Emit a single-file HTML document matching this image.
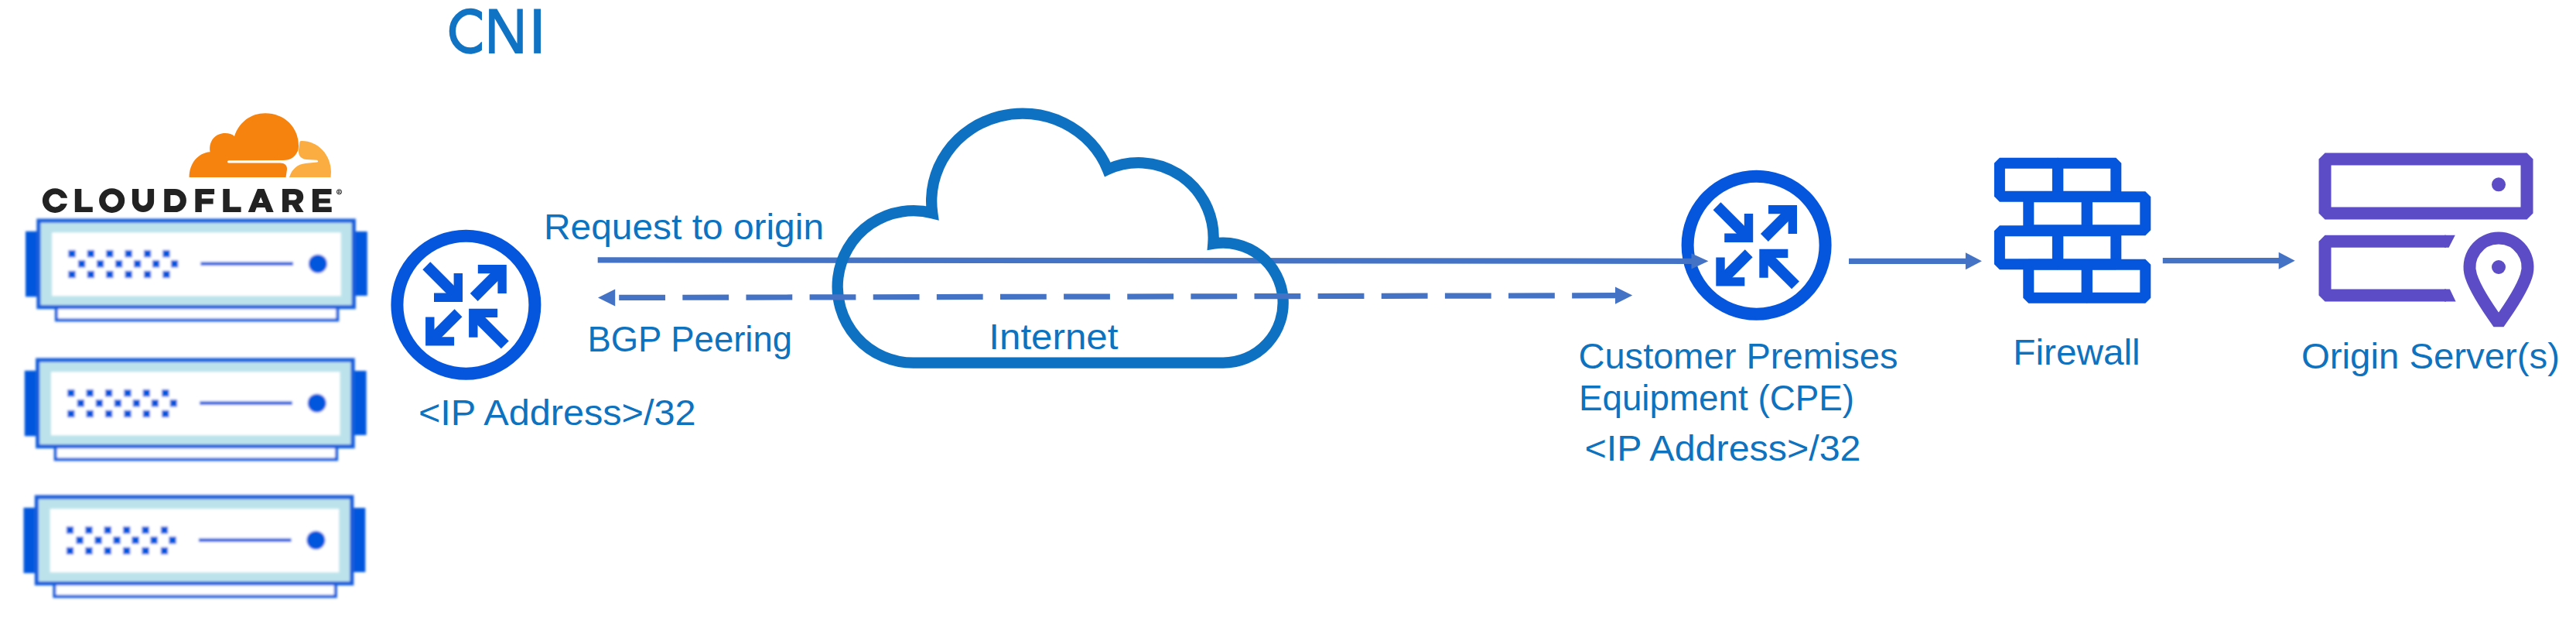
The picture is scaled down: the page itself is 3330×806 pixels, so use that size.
<!DOCTYPE html>
<html><head><meta charset="utf-8"><title>CNI</title>
<style>html,body{margin:0;padding:0;background:#fff;overflow:hidden}svg{display:block}</style>
</head><body>
<svg width="3330" height="806" viewBox="0 0 3330 806" font-family="'Liberation Sans', sans-serif">
<defs><filter id="soft" x="-5%" y="-5%" width="110%" height="110%"><feGaussianBlur stdDeviation="1.5"/></filter></defs>
<rect width="3330" height="806" fill="#fff"/>
<clipPath id="cc"><rect x="570" y="0" width="53.1" height="90"/></clipPath>
<path d="M 625.5 23.9 A 23 25.3 0 1 0 625.5 56.5" fill="none" stroke="#1173C4" stroke-width="8.4" clip-path="url(#cc)"/>
<path d="M632.1,68.9 V11.5 H642.4 L668.5,56.3 V11.5 H675.8 V68.9 H665.9 L639.6,24 V68.9 Z" fill="#1173C4"/>
<rect x="690.2" y="11.5" width="8.8" height="57.4" fill="#1173C4"/>
<g filter="url(#soft)">
<g transform="translate(0,0)">
<rect x="72.9" y="392" width="363.4" height="21.4" fill="#fff" stroke="#175EDB" stroke-width="4"/>
<rect x="33" y="298.8" width="20" height="84.5" fill="#0556DD"/>
<rect x="455" y="299" width="19.8" height="83" fill="#0556DD"/>
<rect x="49.9" y="285.1" width="407.4" height="111.5" fill="#BCE3EB" stroke="#175EDB" stroke-width="5.2"/>
<rect x="67.2" y="300.3" width="373.5" height="82" fill="#fff"/>
<rect x="88.4" y="323.1" width="9.2" height="9.2" fill="#0556DD"/>
<rect x="88.4" y="349.9" width="9.2" height="9.2" fill="#0556DD"/>
<rect x="101.0" y="336.2" width="9.2" height="9.2" fill="#0556DD"/>
<rect x="112.8" y="323.1" width="9.2" height="9.2" fill="#0556DD"/>
<rect x="112.8" y="349.9" width="9.2" height="9.2" fill="#0556DD"/>
<rect x="125.0" y="336.2" width="9.2" height="9.2" fill="#0556DD"/>
<rect x="137.2" y="323.1" width="9.2" height="9.2" fill="#0556DD"/>
<rect x="137.2" y="349.9" width="9.2" height="9.2" fill="#0556DD"/>
<rect x="149.0" y="336.2" width="9.2" height="9.2" fill="#0556DD"/>
<rect x="161.6" y="323.1" width="9.2" height="9.2" fill="#0556DD"/>
<rect x="161.6" y="349.9" width="9.2" height="9.2" fill="#0556DD"/>
<rect x="173.0" y="336.2" width="9.2" height="9.2" fill="#0556DD"/>
<rect x="186.0" y="323.1" width="9.2" height="9.2" fill="#0556DD"/>
<rect x="186.0" y="349.9" width="9.2" height="9.2" fill="#0556DD"/>
<rect x="197.0" y="336.2" width="9.2" height="9.2" fill="#0556DD"/>
<rect x="210.4" y="323.1" width="9.2" height="9.2" fill="#0556DD"/>
<rect x="210.4" y="349.9" width="9.2" height="9.2" fill="#0556DD"/>
<rect x="221.0" y="336.2" width="9.2" height="9.2" fill="#0556DD"/>
<line x1="259.4" y1="340.8" x2="379" y2="340.8" stroke="#1259DC" stroke-width="4.6"/>
<circle cx="410.9" cy="340.8" r="12" fill="#0556DD"/>
</g>
<g transform="translate(-1.2,180)">
<rect x="72.9" y="392" width="363.4" height="21.4" fill="#fff" stroke="#175EDB" stroke-width="4"/>
<rect x="33" y="298.8" width="20" height="84.5" fill="#0556DD"/>
<rect x="455" y="299" width="19.8" height="83" fill="#0556DD"/>
<rect x="49.9" y="285.1" width="407.4" height="111.5" fill="#BCE3EB" stroke="#175EDB" stroke-width="5.2"/>
<rect x="67.2" y="300.3" width="373.5" height="82" fill="#fff"/>
<rect x="88.4" y="323.1" width="9.2" height="9.2" fill="#0556DD"/>
<rect x="88.4" y="349.9" width="9.2" height="9.2" fill="#0556DD"/>
<rect x="101.0" y="336.2" width="9.2" height="9.2" fill="#0556DD"/>
<rect x="112.8" y="323.1" width="9.2" height="9.2" fill="#0556DD"/>
<rect x="112.8" y="349.9" width="9.2" height="9.2" fill="#0556DD"/>
<rect x="125.0" y="336.2" width="9.2" height="9.2" fill="#0556DD"/>
<rect x="137.2" y="323.1" width="9.2" height="9.2" fill="#0556DD"/>
<rect x="137.2" y="349.9" width="9.2" height="9.2" fill="#0556DD"/>
<rect x="149.0" y="336.2" width="9.2" height="9.2" fill="#0556DD"/>
<rect x="161.6" y="323.1" width="9.2" height="9.2" fill="#0556DD"/>
<rect x="161.6" y="349.9" width="9.2" height="9.2" fill="#0556DD"/>
<rect x="173.0" y="336.2" width="9.2" height="9.2" fill="#0556DD"/>
<rect x="186.0" y="323.1" width="9.2" height="9.2" fill="#0556DD"/>
<rect x="186.0" y="349.9" width="9.2" height="9.2" fill="#0556DD"/>
<rect x="197.0" y="336.2" width="9.2" height="9.2" fill="#0556DD"/>
<rect x="210.4" y="323.1" width="9.2" height="9.2" fill="#0556DD"/>
<rect x="210.4" y="349.9" width="9.2" height="9.2" fill="#0556DD"/>
<rect x="221.0" y="336.2" width="9.2" height="9.2" fill="#0556DD"/>
<line x1="259.4" y1="340.8" x2="379" y2="340.8" stroke="#1259DC" stroke-width="4.6"/>
<circle cx="410.9" cy="340.8" r="12" fill="#0556DD"/>
</g>
<g transform="translate(-2.5,357)">
<rect x="72.9" y="392" width="363.4" height="21.4" fill="#fff" stroke="#175EDB" stroke-width="4"/>
<rect x="33" y="298.8" width="20" height="84.5" fill="#0556DD"/>
<rect x="455" y="299" width="19.8" height="83" fill="#0556DD"/>
<rect x="49.9" y="285.1" width="407.4" height="111.5" fill="#BCE3EB" stroke="#175EDB" stroke-width="5.2"/>
<rect x="67.2" y="300.3" width="373.5" height="82" fill="#fff"/>
<rect x="88.4" y="323.1" width="9.2" height="9.2" fill="#0556DD"/>
<rect x="88.4" y="349.9" width="9.2" height="9.2" fill="#0556DD"/>
<rect x="101.0" y="336.2" width="9.2" height="9.2" fill="#0556DD"/>
<rect x="112.8" y="323.1" width="9.2" height="9.2" fill="#0556DD"/>
<rect x="112.8" y="349.9" width="9.2" height="9.2" fill="#0556DD"/>
<rect x="125.0" y="336.2" width="9.2" height="9.2" fill="#0556DD"/>
<rect x="137.2" y="323.1" width="9.2" height="9.2" fill="#0556DD"/>
<rect x="137.2" y="349.9" width="9.2" height="9.2" fill="#0556DD"/>
<rect x="149.0" y="336.2" width="9.2" height="9.2" fill="#0556DD"/>
<rect x="161.6" y="323.1" width="9.2" height="9.2" fill="#0556DD"/>
<rect x="161.6" y="349.9" width="9.2" height="9.2" fill="#0556DD"/>
<rect x="173.0" y="336.2" width="9.2" height="9.2" fill="#0556DD"/>
<rect x="186.0" y="323.1" width="9.2" height="9.2" fill="#0556DD"/>
<rect x="186.0" y="349.9" width="9.2" height="9.2" fill="#0556DD"/>
<rect x="197.0" y="336.2" width="9.2" height="9.2" fill="#0556DD"/>
<rect x="210.4" y="323.1" width="9.2" height="9.2" fill="#0556DD"/>
<rect x="210.4" y="349.9" width="9.2" height="9.2" fill="#0556DD"/>
<rect x="221.0" y="336.2" width="9.2" height="9.2" fill="#0556DD"/>
<line x1="259.4" y1="340.8" x2="379" y2="340.8" stroke="#1259DC" stroke-width="4.6"/>
<circle cx="410.9" cy="340.8" r="12" fill="#0556DD"/>
</g>
</g>
<path fill="#F7830F" d="M 244.6 229 C 244.6 211 256 197.5 271.5 196.3 C 269.5 181 279 172 291 172 C 296 172 300.5 173.5 303 176 C 309 158 324 146.3 343 146.3 C 367 146.3 386 164 386 188 C 386 190 385.7 193 385 195 C 381 203 376 206.8 366 207 L 296 207.3 Q 294 207.5 294 209 Q 294 210.6 296 210.6 L 362 210.6 C 368 210.6 371.5 214 371 219 L 369.5 229 Z"/>
<path fill="#FBAD41" d="M 374 229 C 377 219 384 212 395 211 L 410 209.5 Q 411.5 209 411 208 Q 411 207 409.5 206.8 L 396 206 C 388 205 385.5 200 386 194 L 387.5 183 Q 388 182 390 182 C 411 182 428 200 428 222 L 427.5 229 Z"/>
<g fill="#222222" stroke="none">
<path fill-rule="evenodd" d="M 54.9 259.05 a 16.25 15.85 0 1 0 32.5 0 a 16.25 15.85 0 1 0 -32.5 0 Z M 63.25 259.05 a 8.15 8.35 0 1 0 16.3 0 a 8.15 8.35 0 1 0 -16.3 0 Z"/>
<rect x="75" y="255.8" width="14" height="7.3" fill="#fff"/>
<path d="M 96.8 244 h 8.5 v 23.2 h 14.5 v 6.8 h -23 z"/>
<path fill-rule="evenodd" d="M 128.1 259.05 a 16.55 15.85 0 1 0 33.1 0 a 16.55 15.85 0 1 0 -33.1 0 Z M 136.3 259.05 a 8.35 8.35 0 1 0 16.7 0 a 8.35 8.35 0 1 0 -16.7 0 Z"/>
<path d="M 175.1 244 V 260 A 9.9 9.9 0 0 0 194.9 260 V 244" fill="none" stroke="#222222" stroke-width="8.4"/>
<path d="M 216.3 247.9 H 226 A 10.9 11.1 0 0 1 226 270.1 H 216.3 Z" fill="none" stroke="#222222" stroke-width="8.0" stroke-linejoin="miter"/>
<path d="M 252.4 244 h 24.7 v 6.9 h -16.3 v 5.5 h 14.8 v 7 h -14.8 v 10.6 h -8.4 z"/>
<path d="M 288.3 244 h 8.5 v 23.2 h 14.8 v 6.8 h -23.3 z"/>
<path fill-rule="evenodd" d="M 332.9 244 h 8.6 l 12.2 30 h -9 l -2.2 -5.9 h -10.8 l -2.2 5.9 h -8.8 z M 337.1 254.6 l -3 7.4 h 6 z"/>
<path fill-rule="evenodd" d="M 365 244 h 15.5 c 7.5 0 11.7 4.2 11.7 10.2 c 0 4.6 -2.4 7.8 -6.2 9.3 l 6.6 10.5 h -9.6 l -5.6 -9.2 h -4 v 9.2 h -8.4 z M 373.4 251.1 v 7.5 h 6.3 c 2.6 0 4 -1.5 4 -3.8 c 0 -2.3 -1.4 -3.7 -4 -3.7 z"/>
<path d="M 403.9 244 h 24.6 v 6.9 h -16.2 v 5.5 h 14.4 v 6 h -14.4 v 4.8 h 16.4 v 6.8 h -24.8 z"/>
</g>
<circle cx="438.5" cy="247.8" r="3.1" fill="none" stroke="#222222" stroke-width="1"/>
<text x="436.6" y="249.9" font-size="5.5" font-weight="bold" fill="#222222">R</text>
<g transform="translate(602.4,393.7)" fill="#0556DD" stroke="none">
<circle r="89" fill="none" stroke="#0556DD" stroke-width="16"/>
<polygon points="-4.4,-3.7 -41.4,-3.7 -41.4,-15.1 -15.8,-15.1 -15.8,-40.7 -4.4,-40.7"/><line x1="-51.1" y1="-50.4" x2="-10.4" y2="-9.7" stroke="#0556DD" stroke-width="14"/>
<polygon points="52.4,-51.8 15.4,-51.8 15.4,-40.4 41.0,-40.4 41.0,-14.8 52.4,-14.8"/><line x1="10.3" y1="-9.7" x2="46.4" y2="-45.8" stroke="#0556DD" stroke-width="14"/>
<polygon points="-52.3,52.9 -15.3,52.9 -15.3,41.5 -40.9,41.5 -40.9,15.9 -52.3,15.9"/><line x1="-9.9" y1="10.5" x2="-46.3" y2="46.9" stroke="#0556DD" stroke-width="14"/>
<polygon points="3.7,5.0 40.7,5.0 40.7,16.4 15.1,16.4 15.1,42.0 3.7,42.0"/><line x1="50.4" y1="51.7" x2="9.7" y2="11.0" stroke="#0556DD" stroke-width="14"/>
</g>
<g transform="translate(2270.6,316.7)" fill="#0556DD" stroke="none">
<circle r="89" fill="none" stroke="#0556DD" stroke-width="16"/>
<polygon points="-4.4,-3.7 -41.4,-3.7 -41.4,-15.1 -15.8,-15.1 -15.8,-40.7 -4.4,-40.7"/><line x1="-51.1" y1="-50.4" x2="-10.4" y2="-9.7" stroke="#0556DD" stroke-width="14"/>
<polygon points="52.4,-51.8 15.4,-51.8 15.4,-40.4 41.0,-40.4 41.0,-14.8 52.4,-14.8"/><line x1="10.3" y1="-9.7" x2="46.4" y2="-45.8" stroke="#0556DD" stroke-width="14"/>
<polygon points="-52.3,52.9 -15.3,52.9 -15.3,41.5 -40.9,41.5 -40.9,15.9 -52.3,15.9"/><line x1="-9.9" y1="10.5" x2="-46.3" y2="46.9" stroke="#0556DD" stroke-width="14"/>
<polygon points="3.7,5.0 40.7,5.0 40.7,16.4 15.1,16.4 15.1,42.0 3.7,42.0"/><line x1="50.4" y1="51.7" x2="9.7" y2="11.0" stroke="#0556DD" stroke-width="14"/>
</g>
<line x1="772.7" y1="335.9" x2="2187.5" y2="337.3" stroke="#4472C4" stroke-width="7.2"/><polygon points="2208.4,337.3 2186.5,347.4 2186.5,327.2" fill="#4472C4"/>
<path d="M 1180.90 468.65 A 98.25 98.25 0 1 1 1205.22 275.21 A 117.85 113.35 0 0 1 1431.79 218.80 A 96.85 96.85 0 0 1 1568.34 314.72 A 77.50 77.50 0 1 1 1581.20 468.65 Z" fill="none" stroke="#0F71C2" stroke-width="14.3" stroke-linejoin="miter" stroke-miterlimit="10"/>
<line x1="800.2" y1="384.45" x2="2089" y2="381.7" stroke="#4472C4" stroke-width="7.2" stroke-dasharray="59.8 22.33"/>
<polygon points="773,384.5 795.2,373.5 795.2,395.6" fill="#4472C4"/>
<polygon points="2110.2,381.6 2088,370.6 2088,392.7" fill="#4472C4"/>
<line x1="2390" y1="337.3" x2="2541.9" y2="337.3" stroke="#4472C4" stroke-width="7.2"/><polygon points="2561.9,337.3 2540.9,348.3 2540.9,326.3" fill="#4472C4"/>
<line x1="2795.8" y1="336.7" x2="2946.7" y2="336.7" stroke="#4472C4" stroke-width="7.2"/><polygon points="2966.7,336.7 2945.7,347.7 2945.7,325.7" fill="#4472C4"/>
<g fill="none" stroke="#0556DD" stroke-width="14" stroke-linejoin="bevel">
<rect x="2584.9" y="210.7" width="75.4" height="43.0"/>
<rect x="2659.9" y="210.7" width="75.4" height="43.0"/>
<rect x="2622.3" y="254.2" width="75.4" height="43.0"/>
<rect x="2697.9" y="254.2" width="75.4" height="43.0"/>
<rect x="2584.9" y="298.2" width="75.4" height="43.0"/>
<rect x="2659.9" y="298.2" width="75.4" height="43.0"/>
<rect x="2622.3" y="341.7" width="75.4" height="43.0"/>
<rect x="2697.9" y="341.7" width="75.4" height="43.0"/>
</g>
<g fill="none" stroke="#5C4CC5" stroke-width="16" stroke-linejoin="bevel">
<rect x="3005.5" y="205.5" width="261" height="70"/>
<path d="M 3162 311.8 L 3005.5 311.8 L 3005.5 381.6 L 3162 381.6" stroke-linecap="butt"/>
</g>
<polygon points="3160,303.8 3173.8,303.8 3165.6,319.8 3160,319.8" fill="#5C4CC5"/>
<polygon points="3160,373.6 3166.9,373.6 3174.6,389.6 3160,389.6" fill="#5C4CC5"/>
<circle cx="3230" cy="238.3" r="9" fill="#5C4CC5"/>
<path d="M 3194.34 356.59 A 37.5 37.5 0 1 1 3265.66 356.59 Q 3258.87 377.51 3230 417.5 Q 3201.13 377.51 3194.34 356.59 Z" fill="none" stroke="#5C4CC5" stroke-width="16" stroke-linejoin="bevel"/>
<circle cx="3230" cy="345" r="9" fill="#5C4CC5"/>
<text x="702.92" y="308.6" font-size="46.2" textLength="362.15" lengthAdjust="spacingAndGlyphs" fill="#0E72BE">Request to origin</text>
<text x="759.4" y="453.6" font-size="46.2" textLength="264.68" lengthAdjust="spacingAndGlyphs" fill="#0E72BE">BGP Peering</text>
<text x="540.96" y="548.6" font-size="46.2" textLength="358.6" lengthAdjust="spacingAndGlyphs" fill="#0E72BE">&lt;IP Address&gt;/32</text>
<text x="1278.32" y="451.4" font-size="46.2" textLength="167.19" lengthAdjust="spacingAndGlyphs" fill="#0E72BE">Internet</text>
<text x="2040.47" y="475.8" font-size="46.2" textLength="413.05" lengthAdjust="spacingAndGlyphs" fill="#0E72BE">Customer Premises</text>
<text x="2040.92" y="529.6" font-size="46.2" textLength="356.14" lengthAdjust="spacingAndGlyphs" fill="#0E72BE">Equipment (CPE)</text>
<text x="2048.46" y="595.4" font-size="46.2" textLength="357.09" lengthAdjust="spacingAndGlyphs" fill="#0E72BE">&lt;IP Address&gt;/32</text>
<text x="2602.33" y="471.4" font-size="46.2" textLength="164.33" lengthAdjust="spacingAndGlyphs" fill="#0E72BE">Firewall</text>
<text x="2974.95" y="475.7" font-size="46.2" textLength="334.11" lengthAdjust="spacingAndGlyphs" fill="#0E72BE">Origin Server(s)</text>
</svg>
</body></html>
